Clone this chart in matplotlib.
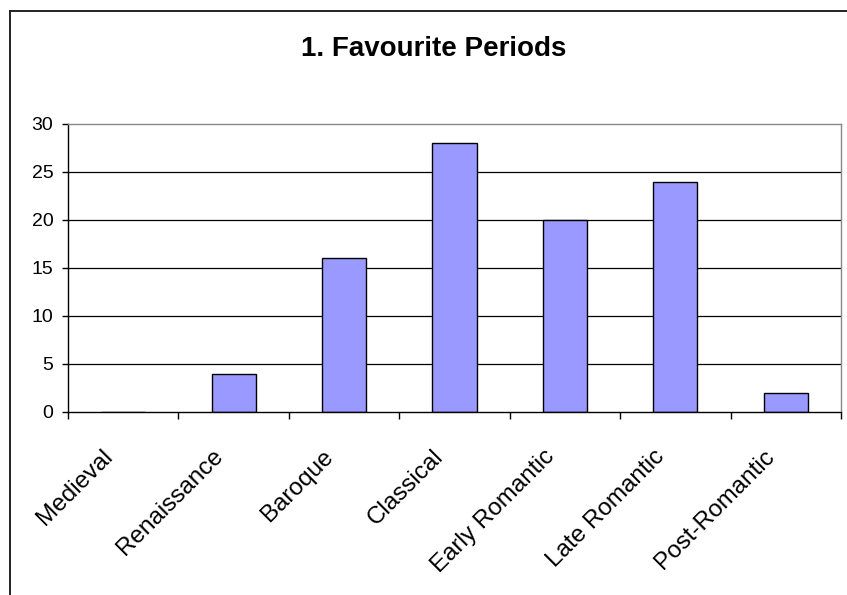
import matplotlib
matplotlib.use("Agg")
import matplotlib.pyplot as plt
from matplotlib.lines import Line2D
from matplotlib.transforms import ScaledTranslation
import numpy as np

periods = ["Medieval", "Renaissance", "Baroque", "Classical",
           "Early Romantic", "Late Romantic", "Post-Romantic"]
votes = [0, 4, 16, 28, 20, 24, 2]
y_ticks = [0, 5, 10, 15, 20, 25, 30]

plt.rcParams["font.family"] = ["Liberation Sans", "DejaVu Sans"]

fig = plt.figure(figsize=(8.47, 5.95), dpi=100)
fig.patch.set_facecolor("white")

# chart frame (only left and top edges are visible in the crop)
fig.add_artist(Line2D([9.5 / 847, 9.5 / 847], [0, 1 - 10.5 / 595], color="#222222", lw=1.4, transform=fig.transFigure))
fig.add_artist(Line2D([9.5 / 847, 1], [1 - 10.5 / 595, 1 - 10.5 / 595], color="#222222", lw=1.4, transform=fig.transFigure))

ax = fig.add_axes([68 / 847, 1 - 412 / 595, (841 - 68) / 847, (412 - 124) / 595])

x = np.arange(len(periods))
ax.bar(x, votes, width=0.4, color="#9999FF", edgecolor="black", linewidth=1.0, zorder=2)

ax.set_xlim(-0.5, len(periods) - 0.5)
ax.set_ylim(0, 30)
ax.set_yticks(y_ticks)
ax.set_yticklabels([str(v) for v in y_ticks])
for v in y_ticks[1:-1]:
    ax.axhline(v, color="black", lw=0.9, zorder=1)

ax.spines["top"].set_color("#888888")
ax.spines["right"].set_color("#888888")
ax.spines["left"].set_color("black")
ax.spines["bottom"].set_color("black")
for s in ax.spines.values():
    s.set_linewidth(1.0)
    s.set_zorder(3)

ax.set_xticks(x)
ax.set_xticklabels(periods, rotation=45, ha="right", va="top", rotation_mode="anchor")
ax.set_xticks(np.arange(len(periods) + 1) - 0.5, minor=True)
ax.tick_params(axis="x", which="major", length=0, pad=24, labelsize=17.5)
ax.tick_params(axis="x", which="minor", length=5, width=1.0, direction="out")
ax.tick_params(axis="y", length=4.5, width=1.0, direction="out", pad=6, labelsize=14)

shift = ScaledTranslation(-22 / 100, 0, fig.dpi_scale_trans)
for lab in ax.get_xticklabels():
    lab.set_transform(lab.get_transform() + shift)

fig.text(434 / 847, 1 - 48.5 / 595, "1. Favourite Periods", ha="center", va="center",
         fontsize=20, fontweight="bold")

fig.savefig("out.png", dpi=100, facecolor="white")
